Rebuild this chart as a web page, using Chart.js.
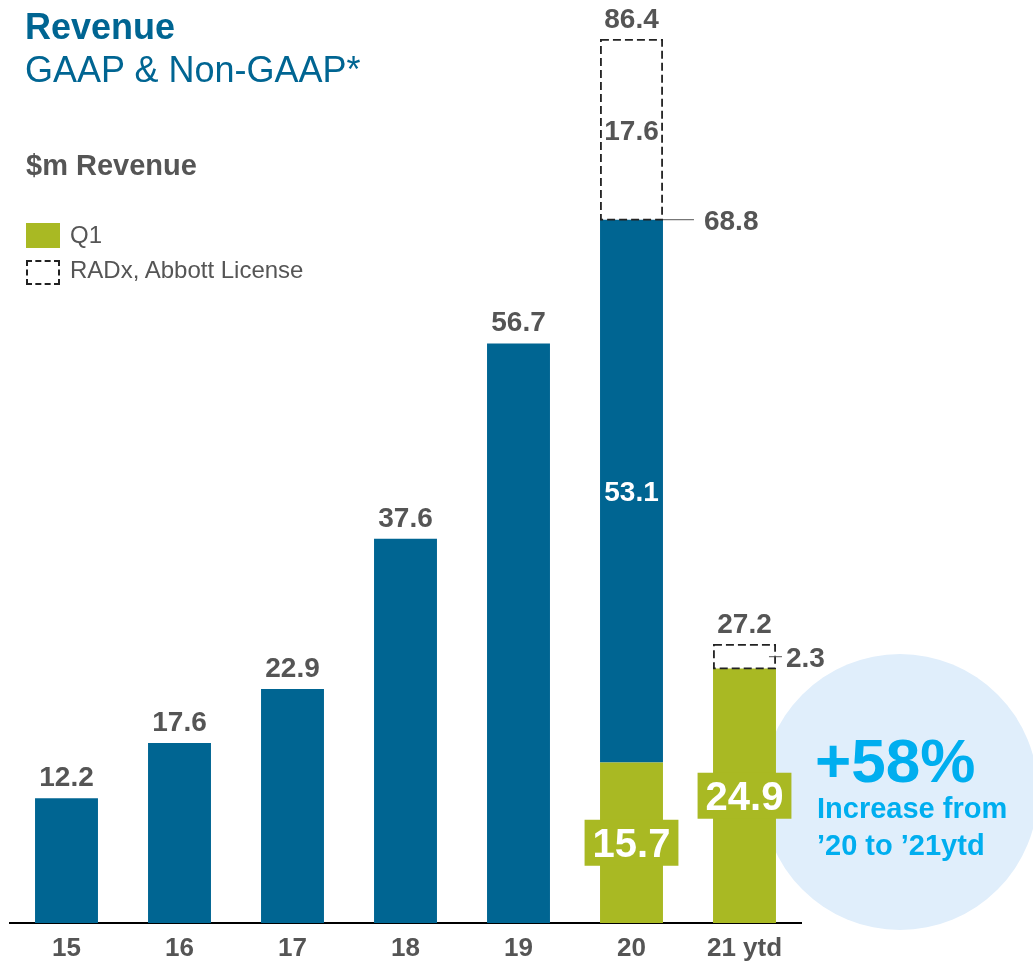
<!DOCTYPE html>
<html>
<head>
<meta charset="utf-8">
<script src="https://cdn.jsdelivr.net/npm/chart.js@4"></script>
<style>
  body { margin: 0; background: #fff; font-family: "Liberation Sans", Arial, sans-serif; }
  #wrap { position: relative; width: 1033px; height: 970px; overflow: hidden; }
  #revChart { position: absolute; left: 0; top: 0; z-index: 1; }
  .t { position: absolute; line-height: 1; white-space: nowrap; z-index: 2; }
  .circle { position: absolute; left: 762px; top: 654px; width: 276px; height: 276px;
            border-radius: 50%; background: #e0eefb; z-index: 0; }
</style>
</head>
<body>
<div id="wrap">
  <div class="circle"></div>
  <canvas id="revChart" width="1033" height="970"></canvas>

  <div class="t" style="left:25px;top:9px;font-size:36px;font-weight:bold;color:#006592;">Revenue</div>
  <div class="t" style="left:25px;top:52px;font-size:36px;color:#006592;">GAAP &amp; Non-GAAP*</div>
  <div class="t" style="left:26px;top:151px;font-size:29px;font-weight:bold;color:#555;">$m Revenue</div>

  <div class="t" style="left:26px;top:223px;width:34px;height:25px;background:#a9b923;"></div>
  <div class="t" style="left:70px;top:223px;font-size:24px;color:#555;">Q1</div>
  <div class="t" style="left:26px;top:260px;width:30px;height:21px;border:2px dashed #222;"></div>
  <div class="t" style="left:70px;top:258px;font-size:24px;color:#555;">RADx, Abbott License</div>

  <div class="t" style="left:815px;top:730px;font-size:62px;font-weight:bold;color:#00aeef;">+58%</div>
  <div class="t" style="left:817px;top:794px;font-size:29px;font-weight:bold;color:#00aeef;">Increase from</div>
  <div class="t" style="left:817px;top:831px;font-size:29px;font-weight:bold;color:#00aeef;">’20 to ’21ytd</div>
</div>

<script>
// Datos del grafico
const years = ["15", "16", "17", "18", "19", "20", "21 ytd"];
const q1Values = [0, 0, 0, 0, 0, 15.7, 24.9];
const coreValues = [12.2, 17.6, 22.9, 37.6, 56.7, 53.1, 0];
const radxValues = [0, 0, 0, 0, 0, 17.6, 2.3];

const BLUE = "#006592";
const GREEN = "#a9b923";
const GRAY = "#555555";
const FONT = '"Liberation Sans", Arial, sans-serif';

// Etiquetas y cajas punteadas dibujadas sobre las barras
const labelsPlugin = {
    id: "revLabels",
    afterDatasetsDraw(chart) {
        const ctx = chart.ctx;
        const q1Meta = chart.getDatasetMeta(0);
        const coreMeta = chart.getDatasetMeta(1);
        const radxMeta = chart.getDatasetMeta(2);
        ctx.save();
        ctx.textAlign = "center";
        ctx.textBaseline = "alphabetic";

        years.forEach((y, i) => {
            const q1 = q1Meta.data[i];
            const core = coreMeta.data[i];
            const radx = radxMeta.data[i];
            const base = q1Values[i] + coreValues[i];
            const total = base + radxValues[i];

            // caja punteada RADx
            if (radxValues[i] > 0) {
                const left = radx.x - radx.width / 2;
                const right = radx.x + radx.width / 2;
                ctx.save();
                ctx.strokeStyle = "#222";
                ctx.lineWidth = 1.8;
                ctx.setLineDash([8, 4]);
                ctx.strokeRect(left + 0.9, radx.y, radx.width - 1.8, radx.base - radx.y);
                ctx.restore();

                ctx.font = "bold 28px " + FONT;
                ctx.fillStyle = GRAY;
                ctx.textAlign = "center";
                ctx.fillText(total.toFixed(1), radx.x, radx.y - 12);

                if (radxValues[i] > 5) {
                    // valor dentro de la caja
                    ctx.fillText(radxValues[i].toFixed(1), radx.x, (radx.y + radx.base) / 2 + 10);
                    // linea guia al subtotal
                    ctx.strokeStyle = "#555";
                    ctx.lineWidth = 1;
                    ctx.beginPath();
                    ctx.moveTo(right, radx.base);
                    ctx.lineTo(right + 31, radx.base);
                    ctx.stroke();
                    ctx.textAlign = "left";
                    ctx.fillText(base.toFixed(1), right + 41, radx.base + 10);
                } else {
                    const mid = (radx.y + radx.base) / 2;
                    ctx.strokeStyle = "#555";
                    ctx.lineWidth = 1;
                    ctx.beginPath();
                    ctx.moveTo(right - 7, mid);
                    ctx.lineTo(right + 6, mid);
                    ctx.stroke();
                    ctx.textAlign = "left";
                    ctx.fillText(radxValues[i].toFixed(1), right + 10, mid + 10);
                }
            } else if (q1Values[i] === 0) {
                ctx.font = "bold 28px " + FONT;
                ctx.fillStyle = GRAY;
                ctx.textAlign = "center";
                ctx.fillText(total.toFixed(1), core.x, core.y - 12);
            }

            // valor del segmento azul cuando hay Q1 debajo
            if (q1Values[i] > 0 && coreValues[i] > 0) {
                ctx.font = "bold 28px " + FONT;
                ctx.fillStyle = "#fff";
                ctx.textAlign = "center";
                ctx.fillText(coreValues[i].toFixed(1), core.x, (core.y + core.base) / 2 + 10);
            }

            // etiqueta Q1 con caja verde
            if (q1Values[i] > 0) {
                const txt = q1Values[i].toFixed(1);
                ctx.font = "bold 40px " + FONT;
                const w = ctx.measureText(txt).width + 16;
                const cy = (q1.y + q1.base) / 2;
                ctx.fillStyle = GREEN;
                ctx.fillRect(q1.x - w / 2, cy - 23, w, 46);
                ctx.fillStyle = "#fff";
                ctx.textAlign = "center";
                ctx.fillText(txt, q1.x, cy + 14);
            }
        });
        ctx.restore();
    },
};

const revChart = new Chart(document.getElementById("revChart").getContext("2d"), {
    type: "bar",
    data: {
        labels: years,
        datasets: [
            { label: "Q1", data: q1Values, backgroundColor: GREEN, borderWidth: 0 },
            { label: "Revenue", data: coreValues, backgroundColor: BLUE, borderWidth: 0 },
            { label: "RADx, Abbott License", data: radxValues, backgroundColor: "rgba(0,0,0,0)", borderWidth: 0 },
        ],
    },
    options: {
        responsive: false,
        animation: false,
        layout: { padding: { left: 10, right: 232, top: 3, bottom: 6 } },
        datasets: { bar: { categoryPercentage: 1, barPercentage: 0.557 } },
        plugins: { legend: { display: false }, tooltip: { enabled: false } },
        scales: {
            x: {
                stacked: true,
                grid: { display: false, drawTicks: false },
                border: { display: true, color: "#000", width: 2 },
                ticks: { color: GRAY, padding: 10, font: { family: FONT, size: 26, weight: "bold" } },
                afterFit(scale) {
                    scale.height = 41;
                },
            },
            y: {
                stacked: true,
                display: false,
                min: 0,
                max: 90,
            },
        },
    },
    plugins: [labelsPlugin],
});
</script>
</body>
</html>
